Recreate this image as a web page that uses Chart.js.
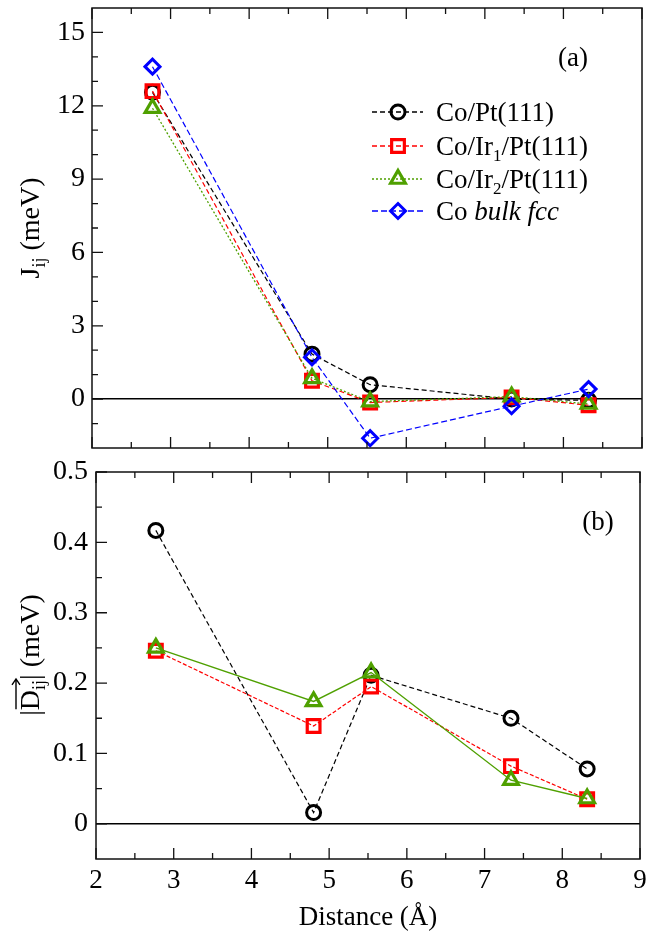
<!DOCTYPE html>
<html>
<head>
<meta charset="utf-8">
<script src="https://cdn.jsdelivr.net/npm/chart.js@4.4.0/dist/chart.umd.min.js"></script>
<style>
  html, body { margin: 0; padding: 0; background: #fff; }
  #wrap { position: relative; width: 662px; height: 934px; }
  #c1 { position: absolute; left: 0; top: 0; }
  #c2 { position: absolute; left: 0; top: 460px; }
</style>
</head>
<body>
<div id="wrap">
  <canvas id="c1" width="662" height="460"></canvas>
  <canvas id="c2" width="662" height="474"></canvas>
</div>
<script>
// neighbour distances (Å)
const distance = [2.77, 4.80, 5.54, 7.34, 8.32];

// (a) exchange J_ij (meV)
const jCoPt  = [12.55, 1.84, 0.59, 0.0, -0.05];
const jCoIr1 = [12.6, 0.75, -0.14, 0.07, -0.25];
const jCoIr2 = [11.9, 0.85, -0.1, 0.1, -0.2];
const jBulk  = [13.6, 1.71, -1.6, -0.29, 0.41];

// (b) |D_ij| (meV)
const dCoPt  = [0.417, 0.016, 0.211, 0.150, 0.078];
const dCoIr1 = [0.246, 0.139, 0.195, 0.082, 0.035];
const dCoIr2 = [0.250, 0.174, 0.215, 0.062, 0.036];

// ticks
const xTicks = [2, 3, 4, 5, 6, 7, 8, 9];
const xMinor = [2.5, 3.5, 4.5, 5.5, 6.5, 7.5, 8.5];
const jTicks = [0, 3, 6, 9, 12, 15];
const jMinor = [-1, 1, 2, 4, 5, 7, 8, 10, 11, 13, 14];
const dTicks = [0, 0.1, 0.2, 0.3, 0.4, 0.5];
const dMinor = [0.05, 0.15, 0.25, 0.35, 0.45];

const seriesNames = ['Co/Pt(111)', 'Co/Ir1/Pt(111)', 'Co/Ir2/Pt(111)', 'Co bulk fcc'];

const SERIF = '"Liberation Serif", "Times New Roman", serif';
const BLACK = '#000000', RED = '#ff0000', GREEN = '#4fa000', BLUE = '#0000ff';

function series(label, values, color, style, radius, bw, dash, lw, order) {
  return {
    label: label,
    data: values.map((v, i) => ({ x: distance[i], y: v })),
    borderColor: color,
    backgroundColor: 'transparent',
    borderWidth: lw,
    borderDash: dash,
    pointStyle: style,
    pointRadius: radius,
    pointHoverRadius: radius,
    pointBorderWidth: bw,
    pointBorderColor: color,
    pointBackgroundColor: 'transparent',
    tension: 0,
    order: order
  };
}

// draw marker for the hand made legend
function marker(ctx, style, x, y, r, color, bw) {
  ctx.save();
  ctx.strokeStyle = color;
  ctx.lineWidth = bw;
  ctx.setLineDash([]);
  ctx.beginPath();
  if (style === 'circle') {
    ctx.arc(x, y, r, 0, Math.PI * 2);
  } else if (style === 'rect') {
    const s = Math.SQRT1_2 * r;
    ctx.rect(x - s, y - s, 2 * s, 2 * s);
  } else if (style === 'triangle') {
    let a = 0;
    ctx.moveTo(x + Math.sin(a) * r, y - Math.cos(a) * r);
    a += 2 * Math.PI / 3;
    ctx.lineTo(x + Math.sin(a) * r, y - Math.cos(a) * r);
    a += 2 * Math.PI / 3;
    ctx.lineTo(x + Math.sin(a) * r, y - Math.cos(a) * r);
    ctx.closePath();
  } else {
    ctx.moveTo(x - r, y); ctx.lineTo(x, y - r); ctx.lineTo(x + r, y); ctx.lineTo(x, y + r);
    ctx.closePath();
  }
  ctx.stroke();
  ctx.restore();
}

// text made of pieces (subscripts, italics)
function rich(ctx, parts, x, y) {
  let cx = x;
  parts.forEach(p => {
    ctx.font = p.font;
    ctx.fillText(p.t, cx, y + (p.dy || 0));
    cx += ctx.measureText(p.t).width;
  });
  return cx;
}
function richWidth(ctx, parts) {
  let w = 0;
  parts.forEach(p => { ctx.font = p.font; w += ctx.measureText(p.t).width; });
  return w;
}

const F = '27px ' + SERIF, FS = '17px ' + SERIF, FI = 'italic 27px ' + SERIF;
const TF = '28px ' + SERIF, TFS = '18px ' + SERIF;

// frame with inward ticks
const frameTicks = {
  id: 'frameTicks',
  afterDraw(chart, args, o) {
    const ctx = chart.ctx, a = chart.chartArea, x = chart.scales.x, y = chart.scales.y;
    ctx.save();
    ctx.strokeStyle = '#111';
    ctx.lineWidth = 1.5;
    ctx.strokeRect(a.left, a.top, a.right - a.left, a.bottom - a.top);
    ctx.lineWidth = 1.3;
    ctx.beginPath();
    const xt = (v, len) => {
      const p = x.getPixelForValue(v);
      ctx.moveTo(p, a.bottom); ctx.lineTo(p, a.bottom - len);
      ctx.moveTo(p, a.top); ctx.lineTo(p, a.top + len);
    };
    const yt = (v, len) => {
      const p = y.getPixelForValue(v);
      ctx.moveTo(a.left, p); ctx.lineTo(a.left + len, p);
    };
    xTicks.forEach(v => xt(v, 11));
    xMinor.forEach(v => xt(v, 6));
    o.yMajor.forEach(v => yt(v, 11));
    o.yMinor.forEach(v => yt(v, 6));
    ctx.stroke();
    ctx.restore();
  }
};

// texts of panel (a)
const textsA = {
  id: 'textsA',
  afterDraw(chart) {
    const ctx = chart.ctx;
    ctx.save();
    ctx.fillStyle = '#000';
    ctx.textBaseline = 'alphabetic';
    ctx.font = F;
    ctx.textAlign = 'center';
    ctx.fillText('(a)', 573, 66);
    ctx.textAlign = 'left';
    const yt = [{ t: 'J', font: TF }, { t: 'ij', font: TFS, dy: 6 }, { t: ' (meV)', font: TF }];
    ctx.translate(39, 228);
    ctx.rotate(-Math.PI / 2);
    rich(ctx, yt, -richWidth(ctx, yt) / 2, 0);
    ctx.restore();

    // legend
    const rows = [
      { y: 112, c: BLACK, dash: [5, 3], s: 'circle', r: 7, bw: 3,
        parts: [{ t: seriesNames[0], font: F }] },
      { y: 146, c: RED, dash: [5, 3], s: 'rect', r: 9, bw: 3.2,
        parts: [{ t: 'Co/Ir', font: F }, { t: '1', font: FS, dy: 6 }, { t: '/Pt(111)', font: F }] },
      { y: 179, c: GREEN, dash: [2, 2], s: 'triangle', r: 8.5, bw: 3.2,
        parts: [{ t: 'Co/Ir', font: F }, { t: '2', font: FS, dy: 6 }, { t: '/Pt(111)', font: F }] },
      { y: 211, c: BLUE, dash: [6, 3], s: 'rectRot', r: 7.5, bw: 3,
        parts: [{ t: 'Co ', font: F }, { t: 'bulk fcc', font: FI }] }
    ];
    ctx.save();
    rows.forEach(rw => {
      ctx.strokeStyle = rw.c;
      ctx.lineWidth = 1.3;
      ctx.setLineDash(rw.dash);
      ctx.beginPath();
      ctx.moveTo(372, rw.y); ctx.lineTo(423, rw.y);
      ctx.stroke();
      marker(ctx, rw.s, 398, rw.y, rw.r, rw.c, rw.bw);
      ctx.fillStyle = '#000';
      ctx.textBaseline = 'alphabetic';
      rich(ctx, rw.parts, 436, rw.y + 9);
    });
    ctx.restore();
  }
};

// texts of panel (b)
const textsB = {
  id: 'textsB',
  afterDraw(chart) {
    const ctx = chart.ctx;
    ctx.save();
    ctx.fillStyle = '#000';
    ctx.textBaseline = 'alphabetic';
    ctx.font = F;
    ctx.textAlign = 'center';
    ctx.fillText('(b)', 598, 70);
    ctx.fillText('Distance (\u00C5)', 368, 465);
    ctx.textAlign = 'left';
    const p1 = [{ t: '|', font: TF }];
    const p2 = [{ t: 'D', font: TF }, { t: 'ij', font: TFS, dy: 6 }];
    const p3 = [{ t: '| (meV)', font: TF }];
    const w1 = richWidth(ctx, p1), w2 = richWidth(ctx, p2), w3 = richWidth(ctx, p3);
    const total = w1 + w2 + w3;
    ctx.translate(39, 195);
    ctx.rotate(-Math.PI / 2);
    const x0 = -total / 2;
    rich(ctx, p1, x0, 0);
    rich(ctx, p2, x0 + w1, 0);
    rich(ctx, p3, x0 + w1 + w2, 0);
    const ax0 = x0 + w1 + 1, ax1 = x0 + w1 + w2 + 1, ay = -23;
    ctx.strokeStyle = '#000';
    ctx.lineWidth = 1.4;
    ctx.beginPath();
    ctx.moveTo(ax0, ay); ctx.lineTo(ax1, ay);
    ctx.moveTo(ax1 - 6, ay - 4); ctx.lineTo(ax1, ay); ctx.lineTo(ax1 - 6, ay + 4);
    ctx.stroke();
    ctx.restore();
  }
};

function zeroGrid(c) {
  return c.tick && Math.abs(c.tick.value) < 1e-9 ? '#000' : 'rgba(0,0,0,0)';
}
function noPad(s) {
  s.paddingTop = 0; s.paddingBottom = 0; s.paddingLeft = 0; s.paddingRight = 0;
}

new Chart(document.getElementById('c1').getContext('2d'), {
  type: 'line',
  data: {
    datasets: [
      series(seriesNames[0], jCoPt, BLACK, 'circle', 7, 3, [5, 3], 1.2, 4),
      series(seriesNames[1], jCoIr1, RED, 'rect', 9, 3.2, [5, 3], 1.2, 3),
      series(seriesNames[2], jCoIr2, GREEN, 'triangle', 8.5, 3.2, [2, 2], 1.3, 2),
      series(seriesNames[3], jBulk, BLUE, 'rectRot', 7.5, 3, [6, 3], 1.2, 1)
    ]
  },
  options: {
    responsive: false,
    animation: false,
    devicePixelRatio: 1,
    layout: { autoPadding: false, padding: { top: 8, right: 20, bottom: 0, left: 0 } },
    plugins: { legend: { display: false }, tooltip: { enabled: false },
      frameTicks: { yMajor: jTicks, yMinor: jMinor } },
    scales: {
      x: {
        type: 'linear', min: 2, max: 9,
        afterBuildTicks: s => { s.ticks = xTicks.map(v => ({ value: v })); },
        ticks: { display: false },
        grid: { display: false, drawTicks: false },
        border: { display: false },
        afterFit: s => { s.height = 12; noPad(s); }
      },
      y: {
        type: 'linear', min: -2, max: 16,
        afterBuildTicks: s => { s.ticks = jTicks.map(v => ({ value: v })); },
        ticks: { color: '#000', padding: 7, font: { family: SERIF, size: 28 } },
        grid: { drawTicks: false, color: zeroGrid, lineWidth: 1.5 },
        border: { display: false },
        afterFit: s => { s.width = 92; noPad(s); }
      }
    }
  },
  plugins: [frameTicks, textsA]
});

new Chart(document.getElementById('c2').getContext('2d'), {
  type: 'line',
  data: {
    datasets: [
      series(seriesNames[0], dCoPt, BLACK, 'circle', 7, 3, [5, 3], 1.2, 3),
      series(seriesNames[1], dCoIr1, RED, 'rect', 9, 3.2, [4, 2], 1.2, 2),
      series(seriesNames[2], dCoIr2, GREEN, 'triangle', 8.5, 3.2, [], 1.4, 1)
    ]
  },
  options: {
    responsive: false,
    animation: false,
    devicePixelRatio: 1,
    layout: { autoPadding: false, padding: { top: 12, right: 22, bottom: 0, left: 0 } },
    plugins: { legend: { display: false }, tooltip: { enabled: false },
      frameTicks: { yMajor: dTicks, yMinor: dMinor } },
    scales: {
      x: {
        type: 'linear', min: 2, max: 9,
        afterBuildTicks: s => { s.ticks = xTicks.map(v => ({ value: v })); },
        ticks: { color: '#000', padding: 6, maxRotation: 0, font: { family: SERIF, size: 27 },
          callback: v => String(v) },
        grid: { display: false, drawTicks: false },
        border: { display: false },
        afterFit: s => { s.height = 75; noPad(s); }
      },
      y: {
        type: 'linear', min: -0.05, max: 0.5,
        afterBuildTicks: s => { s.ticks = dTicks.map(v => ({ value: v })); },
        ticks: { color: '#000', padding: 8, font: { family: SERIF, size: 28 },
          callback: v => (Math.abs(v) < 1e-9 ? '0' : v.toFixed(1)) },
        grid: { drawTicks: false, color: zeroGrid, lineWidth: 1.5 },
        border: { display: false },
        afterFit: s => { s.width = 96; noPad(s); }
      }
    }
  },
  plugins: [frameTicks, textsB]
});
</script>
</body>
</html>
